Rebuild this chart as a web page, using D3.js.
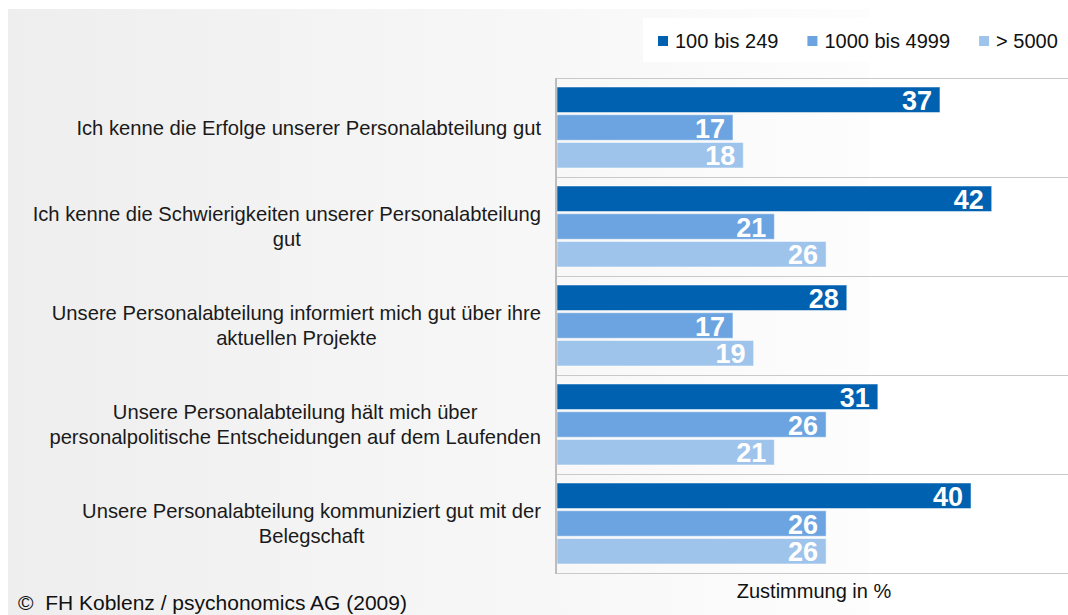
<!DOCTYPE html>
<html>
<head>
<meta charset="utf-8">
<script src="https://cdn.jsdelivr.net/npm/d3@7"></script>
<style>
  body { margin: 0; background: #fff; }
  text { font-family: "Liberation Sans", Arial, sans-serif; }
</style>
</head>
<body>
<div id="chart"></div>
<script>
// Data
var categories = [
    "Ich kenne die Erfolge unserer Personalabteilung gut",
    "Ich kenne die Schwierigkeiten unserer Personalabteilung gut",
    "Unsere Personalabteilung informiert mich gut über ihre aktuellen Projekte",
    "Unsere Personalabteilung hält mich über personalpolitische Entscheidungen auf dem Laufenden",
    "Unsere Personalabteilung kommuniziert gut mit der Belegschaft"
];
var seriesNames = ["100 bis 249", "1000 bis 4999", "> 5000"];
var small = [37, 42, 28, 31, 40];   // 100 bis 249
var medium = [17, 21, 17, 26, 26];  // 1000 bis 4999
var large = [18, 26, 19, 21, 26];   // > 5000
var colors = ["#0061b0", "#6ba4e0", "#9fc4eb"];
var axisTitle = "Zustimmung in %";
var source = "©  FH Koblenz / psychonomics AG (2009)";

var width = 1068, height = 615;
var plot = { left: 556, right: 1068, top: 78, bottom: 573 };

var svg = d3.select("#chart").append("svg")
    .attr("width", width)
    .attr("height", height);

// background panel with gradient
var defs = svg.append("defs");
var grad = defs.append("linearGradient").attr("id", "bg")
    .attr("x1", "0").attr("x2", "1").attr("y1", "0").attr("y2", "0");
grad.append("stop").attr("offset", "0").attr("stop-color", "#eeeeee");
grad.append("stop").attr("offset", "1").attr("stop-color", "#fdfdfd");

svg.append("rect")
    .attr("x", 8).attr("y", 9)
    .attr("width", 861).attr("height", height - 9)
    .attr("fill", "url(#bg)");

// legend box
svg.append("rect")
    .attr("x", 643).attr("y", 18)
    .attr("width", width - 643).attr("height", 44)
    .attr("fill", "#fff");

// scales
var x = d3.scaleLinear().domain([0, 50]).range([557, 557 + 517.5]);
var y0 = d3.scaleBand().domain(categories).range([plot.top, plot.bottom]);
var y1 = d3.scaleBand().domain(seriesNames).range([9, 90]).paddingInner(0.08);

var table = categories.map(function(c, i) {
    return { cat: c, values: [small[i], medium[i], large[i]] };
});

// gridlines between categories
var gridYs = categories.map(function(c) { return y0(c); }).concat([plot.bottom]);
svg.selectAll(".grid").data(gridYs).enter().append("line")
    .attr("x1", plot.left).attr("x2", plot.right)
    .attr("y1", function(d) { return d + 0.5; })
    .attr("y2", function(d) { return d + 0.5; })
    .attr("stroke", "#c9c9c9").attr("stroke-width", 1.2);

// bars
var groups = svg.selectAll(".cat").data(table).enter().append("g")
    .attr("transform", function(d) { return "translate(0," + y0(d.cat) + ")"; });

groups.selectAll("rect").data(function(d) {
        return d.values.map(function(v, j) { return { s: seriesNames[j], v: v, j: j }; });
    })
    .enter().append("rect")
    .attr("x", x(0))
    .attr("y", function(d) { return y1(d.s); })
    .attr("width", function(d) { return x(d.v) - x(0); })
    .attr("height", y1.bandwidth())
    .attr("fill", function(d) { return colors[d.j]; })
    .attr("stroke", "#ffffff").attr("stroke-opacity", 0.5).attr("stroke-width", 1);

groups.selectAll(".val").data(function(d) {
        return d.values.map(function(v, j) { return { s: seriesNames[j], v: v }; });
    })
    .enter().append("text")
    .attr("x", function(d) { return x(d.v) - 8; })
    .attr("y", function(d) { return y1(d.s) + y1.bandwidth() / 2 + 10; })
    .attr("text-anchor", "end")
    .attr("fill", "#fff")
    .attr("font-weight", "bold")
    .attr("font-size", 27)
    .text(function(d) { return d.v; });

// vertical axis line
svg.append("line")
    .attr("x1", plot.left).attr("x2", plot.left)
    .attr("y1", plot.top).attr("y2", plot.bottom + 1)
    .attr("stroke", "#bdbdbd").attr("stroke-width", 2);

// category labels, wrapped and centered in a block right-aligned at the axis
var labelSize = 20.2, maxW = 516, lineH = 25, labelRight = 541;
categories.forEach(function(c) {
    var t = svg.append("text").attr("font-size", labelSize).attr("fill", "#1a1a1a")
        .attr("text-anchor", "middle");
    var words = c.split(" "), lines = [], cur = "";
    var probe = svg.append("text").attr("font-size", labelSize);
    words.forEach(function(w) {
        var test = cur ? cur + " " + w : w;
        probe.text(test);
        if (probe.node().getComputedTextLength() > maxW && cur) {
            lines.push(cur);
            cur = w;
        } else {
            cur = test;
        }
    });
    lines.push(cur);
    var blockW = d3.max(lines, function(l) { probe.text(l); return probe.node().getComputedTextLength(); });
    probe.remove();
    var cx = labelRight - blockW / 2;
    var cy = y0(c) + y0.bandwidth() / 2;
    var startY = cy - (lines.length - 1) * lineH / 2 + 7;
    lines.forEach(function(l, k) {
        t.append("tspan").attr("x", cx).attr("y", startY + k * lineH).text(l);
    });
});

// legend
var lx = 658;
seriesNames.forEach(function(s, j) {
    svg.append("rect")
        .attr("x", lx).attr("y", 36)
        .attr("width", 10).attr("height", 10)
        .attr("fill", colors[j]);
    var lt = svg.append("text")
        .attr("x", lx + 17).attr("y", 48)
        .attr("font-size", 20).attr("fill", "#111")
        .text(s);
    lx = lx + 17 + lt.node().getComputedTextLength() + 29;
});

// axis title
svg.append("text")
    .attr("x", (plot.left + plot.right) / 2 + 2).attr("y", 598)
    .attr("text-anchor", "middle")
    .attr("font-size", 20).attr("fill", "#111")
    .text(axisTitle);

// source
svg.append("text")
    .attr("x", 18).attr("y", 610)
    .attr("font-size", 21).attr("fill", "#111")
    .style("white-space", "pre")
    .text(source);
</script>
</body>
</html>
